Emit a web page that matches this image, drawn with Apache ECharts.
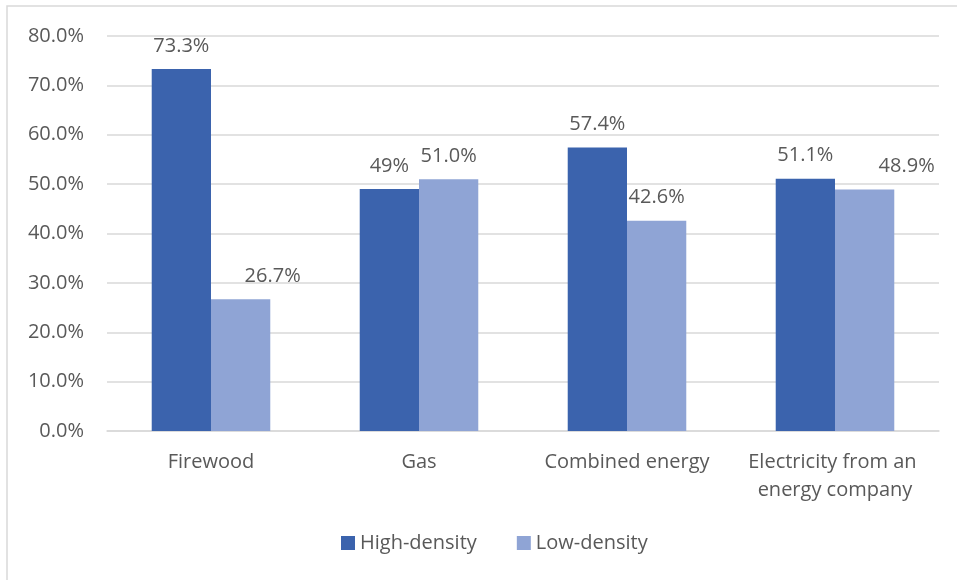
<!DOCTYPE html>
<html>
<head>
<meta charset="utf-8">
<script src="https://cdn.jsdelivr.net/npm/echarts@6/dist/echarts.min.js"></script>
<style>
html, body { margin: 0; padding: 0; background: #fff; }
#chart { width: 957px; height: 580px; }
</style>
</head>
<body>
<div id="chart"></div>
<script>
// 数据
var categories = ['Firewood', 'Gas', 'Combined energy', 'Electricity from an energy company'];
var highDensity = [73.3, 49, 57.4, 51.1];
var lowDensity = [26.7, 51.0, 42.6, 48.9];
var highLabels = ['73.3%', '49%', '57.4%', '51.1%'];
var lowLabels = ['26.7%', '51.0%', '42.6%', '48.9%'];
// 标签水平偏移(原图中部分标签被手动移动过)
var lowLabelShift = [32, 0, 0, 42];

var textColor = '#595959';
var font = '"Open Sans", "Liberation Sans", sans-serif';
var fs = 20;

var lowData = lowDensity.map(function(v, i) {
	return { value : v, label : { offset : [ lowLabelShift[i], 0 ] } };
});

var chart = echarts.init(document.getElementById('chart'));
var options = {
	animation : false,
	textStyle : { fontFamily : font },
	graphic : [ {
		type : 'rect',
		shape : { x : 7, y : 6, width : 1000, height : 1000 },
		style : { fill : 'none', stroke : '#d9d9d9', lineWidth : 1.5 },
		silent : true
	} ],
	grid : { left : 107, right : 18, top : 36, bottom : 149 },
	legend : {
		bottom : 22,
		left : 336,
		itemWidth : 14,
		itemHeight : 14,
		itemGap : 40,
		icon : 'rect',
		textStyle : { color : textColor, fontSize : fs, fontFamily : font }
	},
	xAxis : [ {
		type : 'category',
		data : categories,
		axisLine : { lineStyle : { color : '#d9d9d9', width : 1.5 } },
		axisTick : { show : false },
		axisLabel : {
			color : textColor,
			fontSize : fs,
			fontFamily : font,
			margin : 17,
			lineHeight : 28,
			interval : 0,
			width : 205,
			overflow : 'break'
		}
	} ],
	yAxis : [ {
		type : 'value',
		min : 0,
		max : 80,
		interval : 10,
		axisLine : { show : false },
		axisTick : { show : false },
		splitLine : { lineStyle : { color : '#d9d9d9', width : 1.5 } },
		axisLabel : {
			color : textColor,
			fontSize : fs,
			fontFamily : font,
			margin : 23,
			formatter : function(v) { return v.toFixed(1) + '%'; }
		}
	} ],
	series : [ {
		name : 'High-density',
		type : 'bar',
		data : highDensity,
		barGap : '0%',
		barCategoryGap : '43%',
		itemStyle : { color : '#3b63ad' },
		label : {
			show : true,
			position : 'top',
			distance : 13,
			color : textColor,
			fontSize : fs,
			fontFamily : font,
			formatter : function(p) { return highLabels[p.dataIndex]; }
		}
	}, {
		name : 'Low-density',
		type : 'bar',
		data : lowData,
		itemStyle : { color : '#8fa4d5' },
		label : {
			show : true,
			position : 'top',
			distance : 13,
			color : textColor,
			fontSize : fs,
			fontFamily : font,
			formatter : function(p) { return lowLabels[p.dataIndex]; }
		}
	} ]
};
chart.setOption(options);
</script>
</body>
</html>
